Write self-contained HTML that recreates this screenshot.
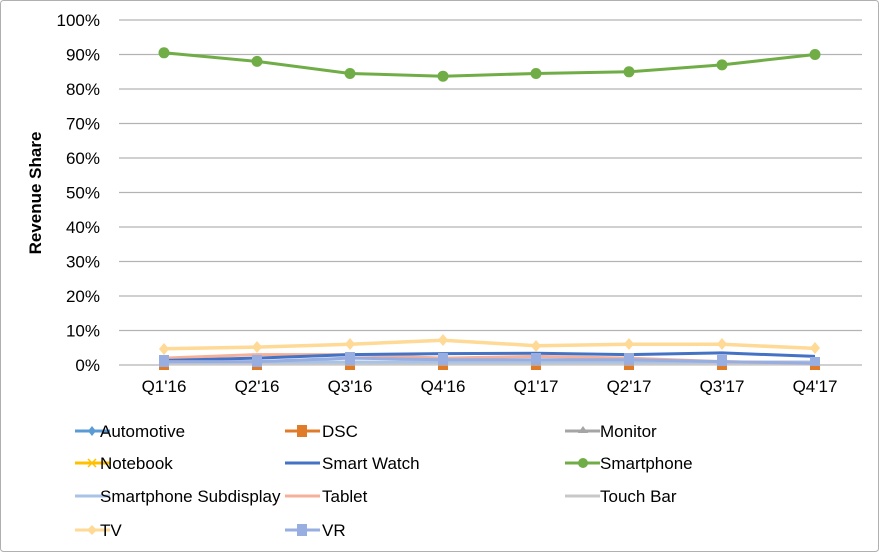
<!DOCTYPE html>
<html><head><meta charset="utf-8"><style>
body{margin:0;background:#fff;}
svg{display:block;font-family:"Liberation Sans",Arial,sans-serif;}
</style></head><body>
<svg width="879" height="552" viewBox="0 0 879 552">
<rect x="0.5" y="0.5" width="878" height="551" rx="3" fill="#fff" stroke="#b0b0b0"/>
<g stroke="#b3b3b3" stroke-width="1.2">
<line x1="119" x2="862" y1="20" y2="20"/><line x1="119" x2="862" y1="54.5" y2="54.5"/>
<line x1="119" x2="862" y1="89" y2="89"/><line x1="119" x2="862" y1="123.5" y2="123.5"/>
<line x1="119" x2="862" y1="158" y2="158"/><line x1="119" x2="862" y1="192.5" y2="192.5"/>
<line x1="119" x2="862" y1="227" y2="227"/><line x1="119" x2="862" y1="261.5" y2="261.5"/>
<line x1="119" x2="862" y1="296" y2="296"/><line x1="119" x2="862" y1="330.5" y2="330.5"/>
<line x1="119" x2="862" y1="365" y2="365"/>
</g>
<g font-size="17" fill="#000" text-anchor="end">
<text x="100" y="26">100%</text><text x="100" y="60.5">90%</text><text x="100" y="95">80%</text>
<text x="100" y="129.5">70%</text><text x="100" y="164">60%</text><text x="100" y="198.5">50%</text>
<text x="100" y="233">40%</text><text x="100" y="267.5">30%</text><text x="100" y="302">20%</text>
<text x="100" y="336.5">10%</text><text x="100" y="371">0%</text>
</g>
<text transform="translate(41,193) rotate(-90)" font-size="17" font-weight="bold" text-anchor="middle">Revenue Share</text>
<g font-size="17" text-anchor="middle">
<text x="164" y="392">Q1'16</text><text x="257" y="392">Q2'16</text><text x="350" y="392">Q3'16</text><text x="443" y="392">Q4'16</text>
<text x="536" y="392">Q1'17</text><text x="629" y="392">Q2'17</text><text x="722" y="392">Q3'17</text><text x="815" y="392">Q4'17</text>
</g>
<!-- low series -->
<g fill="#e07b2a"><rect x="159" y="362" width="10" height="8"/><rect x="252" y="362" width="10" height="8"/><rect x="345" y="362" width="10" height="8"/><rect x="438" y="362" width="10" height="8"/><rect x="531" y="362" width="10" height="8"/><rect x="624" y="362" width="10" height="8"/><rect x="717" y="362" width="10" height="8"/><rect x="810" y="362" width="10" height="8"/></g>
<polyline fill="none" stroke="#c8c8c8" stroke-width="3" points="164,364 257,364 350,364 443,364 536,364 629,364 722,364 815,364"/>
<polyline fill="none" stroke="#a9c3e6" stroke-width="3" points="164,362 257,362 350,362 443,362 536,362 629,362 722,362 815,362"/>
<polyline fill="none" stroke="#f4b09a" stroke-width="3" points="164,358.1 257,354.6 350,354.6 443,358.1 536,356.4 629,358.1 722,361.6 815,363.3"/>
<polyline fill="none" stroke="#4472c4" stroke-width="3" points="164,360.5 257,358.1 350,354.6 443,353.6 536,353.3 629,354.6 722,352.9 815,356.4"/>
<polyline fill="none" stroke="#98ade0" stroke-width="3" points="164,361.6 257,361.6 350,358.1 443,359.8 536,359.8 629,359.8 722,361.6 815,363.3"/>
<g fill="#98ade0"><rect x="159" y="355" width="10" height="12"/><rect x="252" y="355" width="10" height="12"/><rect x="345" y="352" width="10" height="13"/><rect x="438" y="353" width="10" height="12"/><rect x="531" y="353" width="10" height="12"/><rect x="624" y="353" width="10" height="12"/><rect x="717" y="355" width="10" height="11"/><rect x="810" y="357" width="10" height="9"/></g>
<polyline fill="none" stroke="#ffd996" stroke-width="3.5" points="164,348.8 257,347.1 350,344.3 443,340.2 536,345.7 629,344.3 722,344.3 815,348.4"/>
<g fill="#ffd996"><path d="M164,343 l5,6 l-5,6 l-5,-6z"/><path d="M257,341 l5,6 l-5,6 l-5,-6z"/><path d="M350,338 l5,6 l-5,6 l-5,-6z"/><path d="M443,334 l5,6 l-5,6 l-5,-6z"/><path d="M536,340 l5,6 l-5,6 l-5,-6z"/><path d="M629,338 l5,6 l-5,6 l-5,-6z"/><path d="M722,338 l5,6 l-5,6 l-5,-6z"/><path d="M815,342 l5,6 l-5,6 l-5,-6z"/></g>
<!-- smartphone -->
<polyline fill="none" stroke="#70ad47" stroke-width="3" points="164,52.8 257,61.4 350,73.5 443,76.2 536,73.5 629,71.8 722,64.9 815,54.5"/>
<g fill="#70ad47"><circle cx="164" cy="52.8" r="5.5"/><circle cx="257" cy="61.4" r="5.5"/><circle cx="350" cy="73.5" r="5.5"/><circle cx="443" cy="76.2" r="5.5"/><circle cx="536" cy="73.5" r="5.5"/><circle cx="629" cy="71.8" r="5.5"/><circle cx="722" cy="64.9" r="5.5"/><circle cx="815" cy="54.5" r="5.5"/></g>
<!-- legend -->
<g stroke-width="3">
<line x1="75" x2="110" y1="431" y2="431" stroke="#5b9bd5"/><path d="M92,426 l4,5 l-4,5 l-4,-5z" fill="#5b9bd5"/>
<line x1="75" x2="110" y1="463" y2="463" stroke="#ffc000"/><path d="M88,459 l8,8 M96,459 l-8,8" stroke="#ffc000" stroke-width="1.5"/>
<line x1="75" x2="110" y1="496" y2="496" stroke="#a9c3e6"/>
<line x1="75" x2="110" y1="530" y2="530" stroke="#ffd996"/><path d="M92,525 l5,5 l-5,5 l-5,-5z" fill="#ffd996"/>
<line x1="285" x2="320" y1="431" y2="431" stroke="#e07b2a"/><rect x="297" y="425" width="10" height="12" fill="#e07b2a"/>
<line x1="285" x2="320" y1="463" y2="463" stroke="#4472c4"/>
<line x1="285" x2="320" y1="496" y2="496" stroke="#f4b09a"/>
<line x1="285" x2="320" y1="530" y2="530" stroke="#98ade0"/><rect x="297" y="524" width="10" height="12" fill="#98ade0"/>
<line x1="565" x2="600" y1="431" y2="431" stroke="#a5a5a5"/><path d="M583,426 l5,7 h-10z" fill="#a5a5a5"/>
<line x1="565" x2="600" y1="463" y2="463" stroke="#70ad47"/><circle cx="583" cy="463" r="5" fill="#70ad47"/>
<line x1="565" x2="600" y1="496" y2="496" stroke="#c8c8c8"/>
</g>
<g font-size="17">
<text x="100" y="437">Automotive</text><text x="100" y="469">Notebook</text><text x="100" y="502">Smartphone Subdisplay</text><text x="100" y="536">TV</text>
<text x="322" y="437">DSC</text><text x="322" y="469">Smart Watch</text><text x="322" y="502">Tablet</text><text x="322" y="536">VR</text>
<text x="600" y="437">Monitor</text><text x="600" y="469">Smartphone</text><text x="600" y="502">Touch Bar</text>
</g>
</svg>
</body></html>
